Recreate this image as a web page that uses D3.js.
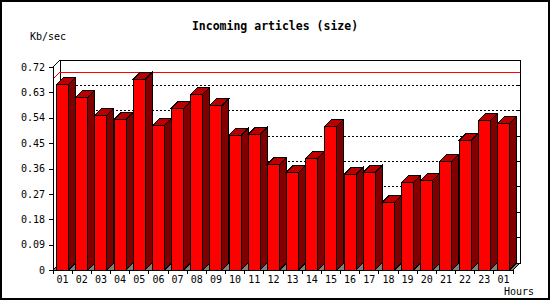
<!DOCTYPE html>
<html>
<head>
<meta charset="utf-8">
<script src="https://cdn.jsdelivr.net/npm/d3@7"></script>
<style>
  body { margin: 0; background: #fff; }
  svg { display: block; }
</style>
</head>
<body>
<script>
// hours on the x axis (the last one wraps to the next day)
const hours = ["01","02","03","04","05","06","07","08","09","10","11","12",
               "13","14","15","16","17","18","19","20","21","22","23","01"];
// Kb/sec per hour
const kbps = [0.659, 0.612, 0.549, 0.534, 0.677, 0.513, 0.574, 0.623, 0.584, 0.478,
              0.481, 0.375, 0.347, 0.396, 0.510, 0.339, 0.347, 0.240, 0.311, 0.318,
              0.386, 0.460, 0.530, 0.520];
const yTicks = [0, 0.09, 0.18, 0.27, 0.36, 0.45, 0.54, 0.63, 0.72];

const width = 550;
const height = 300;
const margin = { top: 67, right: 37, bottom: 30, left: 53 };
const depth = 7;
const font = "'DejaVu Sans Mono', monospace";

const svg = d3.select("body").append("svg")
  .attr("width", width)
  .attr("height", height)
  .attr("shape-rendering", "crispEdges");

svg.append("rect")
  .attr("x", 1).attr("y", 0.5)
  .attr("width", width - 2).attr("height", height - 1.5)
  .attr("fill", "white")
  .attr("stroke", "black")
  .attr("stroke-width", 2);

const x = d3.scaleBand()
  .domain(d3.range(hours.length))
  .range([margin.left, width - margin.right])
  .padding(0);

const y = d3.scaleLinear()
  .domain([0, 0.72])
  .range([height - margin.bottom, margin.top]);

const x0 = margin.left, x1 = width - margin.right;
const y0 = y(0), yTop = y(0.72);

// back plane
svg.append("rect")
  .attr("x", x0 + depth).attr("y", yTop - depth)
  .attr("width", x1 - x0).attr("height", y0 - yTop)
  .attr("fill", "white")
  .attr("stroke", "black");

// floor
svg.append("polygon")
  .attr("points", [[x0, y0], [x1, y0], [x1 + depth, y0 - depth], [x0 + depth, y0 - depth]].join(" "))
  .attr("fill", "#808080")
  .attr("stroke", "black");

// dotted grid on the back plane
svg.append("g")
  .selectAll("line")
  .data(yTicks.slice(1, -1))
  .join("line")
  .attr("x1", x0 + depth).attr("x2", x1 + depth)
  .attr("y1", d => y(d) - depth).attr("y2", d => y(d) - depth)
  .attr("stroke", "black")
  .attr("stroke-dasharray", "2,2");

// small ticks on the right edge of the back plane
svg.append("g")
  .selectAll("line")
  .data(yTicks.slice(1, -1))
  .join("line")
  .attr("x1", x1 + depth - 3).attr("x2", x1 + depth)
  .attr("y1", d => y(d) - depth).attr("y2", d => y(d) - depth)
  .attr("stroke", "black");

// max line
const maxV = d3.max(kbps);
svg.append("polyline")
  .attr("points", [[x0, y(maxV)], [x0 + depth, y(maxV) - depth], [x1 + depth, y(maxV) - depth]].join(" "))
  .attr("fill", "none")
  .attr("stroke", "red");

// left wall top diagonal
svg.append("line")
  .attr("x1", x0).attr("y1", yTop)
  .attr("x2", x0 + depth).attr("y2", yTop - depth)
  .attr("stroke", "black");

// bars
const bw = x.bandwidth() * 0.63;
const bars = svg.append("g")
  .selectAll("g")
  .data(kbps)
  .join("g");

const bl = (d, i) => x(i) + (x.bandwidth() - bw) / 2;

bars.append("polygon")
  .attr("points", (d, i) => {
    const r = bl(d, i) + bw;
    return [[r, y(d)], [r + depth, y(d) - depth], [r + depth, y0 - depth], [r, y0]].join(" ");
  })
  .attr("fill", "#800000")
  .attr("stroke", "black");

bars.append("polygon")
  .attr("points", (d, i) => {
    const l = bl(d, i), r = l + bw;
    return [[l, y(d)], [l + depth, y(d) - depth], [r + depth, y(d) - depth], [r, y(d)]].join(" ");
  })
  .attr("fill", "#b80000")
  .attr("stroke", "black");

bars.append("rect")
  .attr("x", (d, i) => bl(d, i))
  .attr("y", d => y(d))
  .attr("width", bw)
  .attr("height", d => y0 - y(d))
  .attr("fill", "#ff0000")
  .attr("stroke", "black");

// y axis
const yAxis = svg.append("g")
  .attr("transform", `translate(${x0},0)`)
  .call(d3.axisLeft(y).tickValues(yTicks).tickSize(4).tickPadding(4)
    .tickFormat(d => d === 0 ? "0" : d3.format(".2f")(d)));
yAxis.select(".domain").attr("d", `M0,${y0}V${yTop}`);
yAxis.selectAll("text").attr("font-family", font).attr("font-size", 10).attr("fill", "black");

// x axis: labels centred, ticks at band edges
const xAxis = svg.append("g")
  .attr("transform", `translate(0,${y0})`)
  .call(d3.axisBottom(x).tickSize(0).tickPadding(6).tickFormat(i => hours[i]));
xAxis.select(".domain").attr("d", `M${x0},0H${x1}`);
xAxis.selectAll("text").attr("font-family", font).attr("font-size", 10).attr("fill", "black");

svg.append("g")
  .selectAll("line")
  .data(d3.range(hours.length + 1))
  .join("line")
  .attr("x1", i => x0 + i * x.step()).attr("x2", i => x0 + i * x.step())
  .attr("y1", y0).attr("y2", y0 + 4)
  .attr("stroke", "black");

// titles
svg.append("text")
  .attr("x", width / 2).attr("y", 30)
  .attr("text-anchor", "middle")
  .attr("font-family", font).attr("font-size", 11.5).attr("font-weight", "bold")
  .text("Incoming articles (size)");

svg.append("text")
  .attr("x", 30).attr("y", 40)
  .attr("font-family", font).attr("font-size", 10)
  .text("Kb/sec");

svg.append("text")
  .attr("x", 534).attr("y", 295)
  .attr("text-anchor", "end")
  .attr("font-family", font).attr("font-size", 10)
  .text("Hours");
</script>
</body>
</html>
